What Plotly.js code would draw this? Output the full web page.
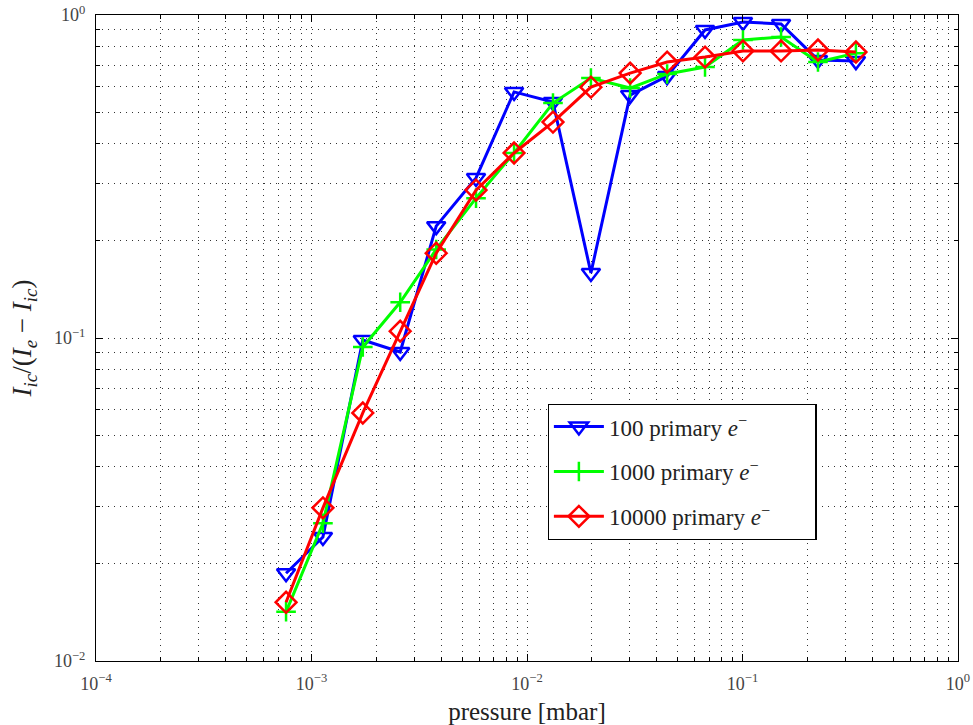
<!DOCTYPE html>
<html>
<head>
<meta charset="utf-8">
<script src="https://cdn.plot.ly/plotly-3.0.1.min.js"></script>
<style>html,body{margin:0;padding:0;background:#fff;}#chart{width:973px;height:725px;}</style>
</head>
<body>
<div id="chart"></div>
<script>
// pressure [mbar]
const pressure = [7.62e-4, 1.13e-3, 1.73e-3, 2.58e-3, 3.79e-3, 5.80e-3, 8.71e-3, 0.0132, 0.0198, 0.0301, 0.0447, 0.0670, 0.1005, 0.151, 0.224, 0.336];
const series100 = [0.0187, 0.0242, 0.0986, 0.0905, 0.222, 0.313, 0.578, 0.538, 0.159, 0.565, 0.647, 0.899, 0.951, 0.938, 0.726, 0.720];
const series1000 = [0.0142, 0.0267, 0.0938, 0.129, 0.188, 0.271, 0.374, 0.534, 0.638, 0.594, 0.657, 0.690, 0.837, 0.855, 0.715, 0.762];
const series10000 = [0.0152, 0.0298, 0.0586, 0.105, 0.183, 0.287, 0.374, 0.466, 0.598, 0.661, 0.715, 0.741, 0.774, 0.774, 0.779, 0.768];
const seriesNames = ['100 primary <i>e</i><sup>−</sup>', '1000 primary <i>e</i><sup>−</sup>', '10000 primary <i>e</i><sup>−</sup>'];
const xTickVals = [1e-4, 1e-3, 1e-2, 1e-1, 1];
const xTickText = ['10<sup>−4</sup>', '10<sup>−3</sup>', '10<sup>−2</sup>', '10<sup>−1</sup>', '10<sup>0</sup>'];
const yTickVals = [1e-2, 1e-1, 1];
const yTickText = ['10<sup>−2</sup>', '10<sup>−1</sup>', '10<sup>0</sup>'];

function minorVals(lo, hi) {
  const v = [];
  for (let e = lo; e < hi; e++) for (let m = 2; m <= 9; m++) v.push(m * Math.pow(10, e));
  return v;
}

// extra blank room at the right of the legend box, as in the reference
const legendPad = '\u00A0\u00A0\u00A0\u00A0\u00A0\u00A0\u00A0';

const serif = '"Liberation Serif", "Times New Roman", serif';
const traces = [
  {x: pressure, y: series100, name: seriesNames[0], legendgroup: 'g1', mode: 'lines+markers',
   line: {color: '#0000ff', width: 3},
   marker: {symbol: 'triangle-down-open', size: 16, color: '#0000ff', line: {width: 2.5, color: '#0000ff'}}},
  {x: pressure, y: series1000, name: seriesNames[1], legendgroup: 'g2', mode: 'lines+markers',
   line: {color: '#00ff00', width: 3},
   marker: {symbol: 'cross-thin-open', size: 14, color: '#00ff00', line: {width: 2.5, color: '#00ff00'}}},
  {x: pressure, y: series10000, name: seriesNames[2] + legendPad, legendgroup: 'g3', mode: 'lines+markers',
   line: {color: '#ff0000', width: 3},
   marker: {symbol: 'diamond-open', size: 16, color: '#ff0000', line: {width: 2.5, color: '#ff0000'}}}
];

const gridDash = '1px,5px';
const axisCommon = {
  type: 'log', showline: true, linecolor: '#000', linewidth: 1, mirror: 'ticks',
  ticks: 'inside', ticklen: 7, tickcolor: '#000', tickwidth: 1,
  showgrid: true, gridcolor: '#333', gridwidth: 1, griddash: gridDash,
  zeroline: false, tickmode: 'array', ticklabelstandoff: 6,
  tickfont: {family: serif, size: 18, color: '#444'}
};

const layout = {
  width: 973, height: 725,
  margin: {l: 96, r: 15, t: 15, b: 64},
  paper_bgcolor: '#fff', plot_bgcolor: '#fff',
  showlegend: true,
  font: {family: serif, color: '#222'},
  xaxis: Object.assign({}, axisCommon, {
    range: [-4, 0], tickvals: xTickVals, ticktext: xTickText,
    minor: {tickmode: 'array', tickvals: minorVals(-4, 0), ticks: 'inside', ticklen: 4, tickcolor: '#000',
            showgrid: true, gridcolor: '#333', gridwidth: 1, griddash: gridDash},
    title: {text: 'pressure [mbar]', font: {family: serif, size: 25, color: '#222'}, standoff: 12}
  }),
  yaxis: Object.assign({}, axisCommon, {
    range: [-2, 0], tickvals: yTickVals, ticktext: yTickText,
    minor: {tickmode: 'array', tickvals: minorVals(-2, 0), ticks: 'inside', ticklen: 4, tickcolor: '#000',
            showgrid: true, gridcolor: '#333', gridwidth: 1, griddash: gridDash},
    title: {text: '<i>I</i><sub><i>ic</i></sub>/(<i>I</i><sub><i>e</i></sub> − <i>I</i><sub><i>ic</i></sub>)',
            font: {family: serif, size: 27, color: '#222'}, standoff: 14}
  }),
  legend: {
    x: 0.524, y: 0.398, xanchor: 'left', yanchor: 'top',
    bgcolor: '#fff', bordercolor: '#000', borderwidth: 1.2,
    font: {family: serif, size: 23, color: '#222'},
    itemwidth: 50, tracegroupgap: 12
  }
};

Plotly.newPlot('chart', traces, layout, {displayModeBar: false, staticPlot: true});
</script>
</body>
</html>
